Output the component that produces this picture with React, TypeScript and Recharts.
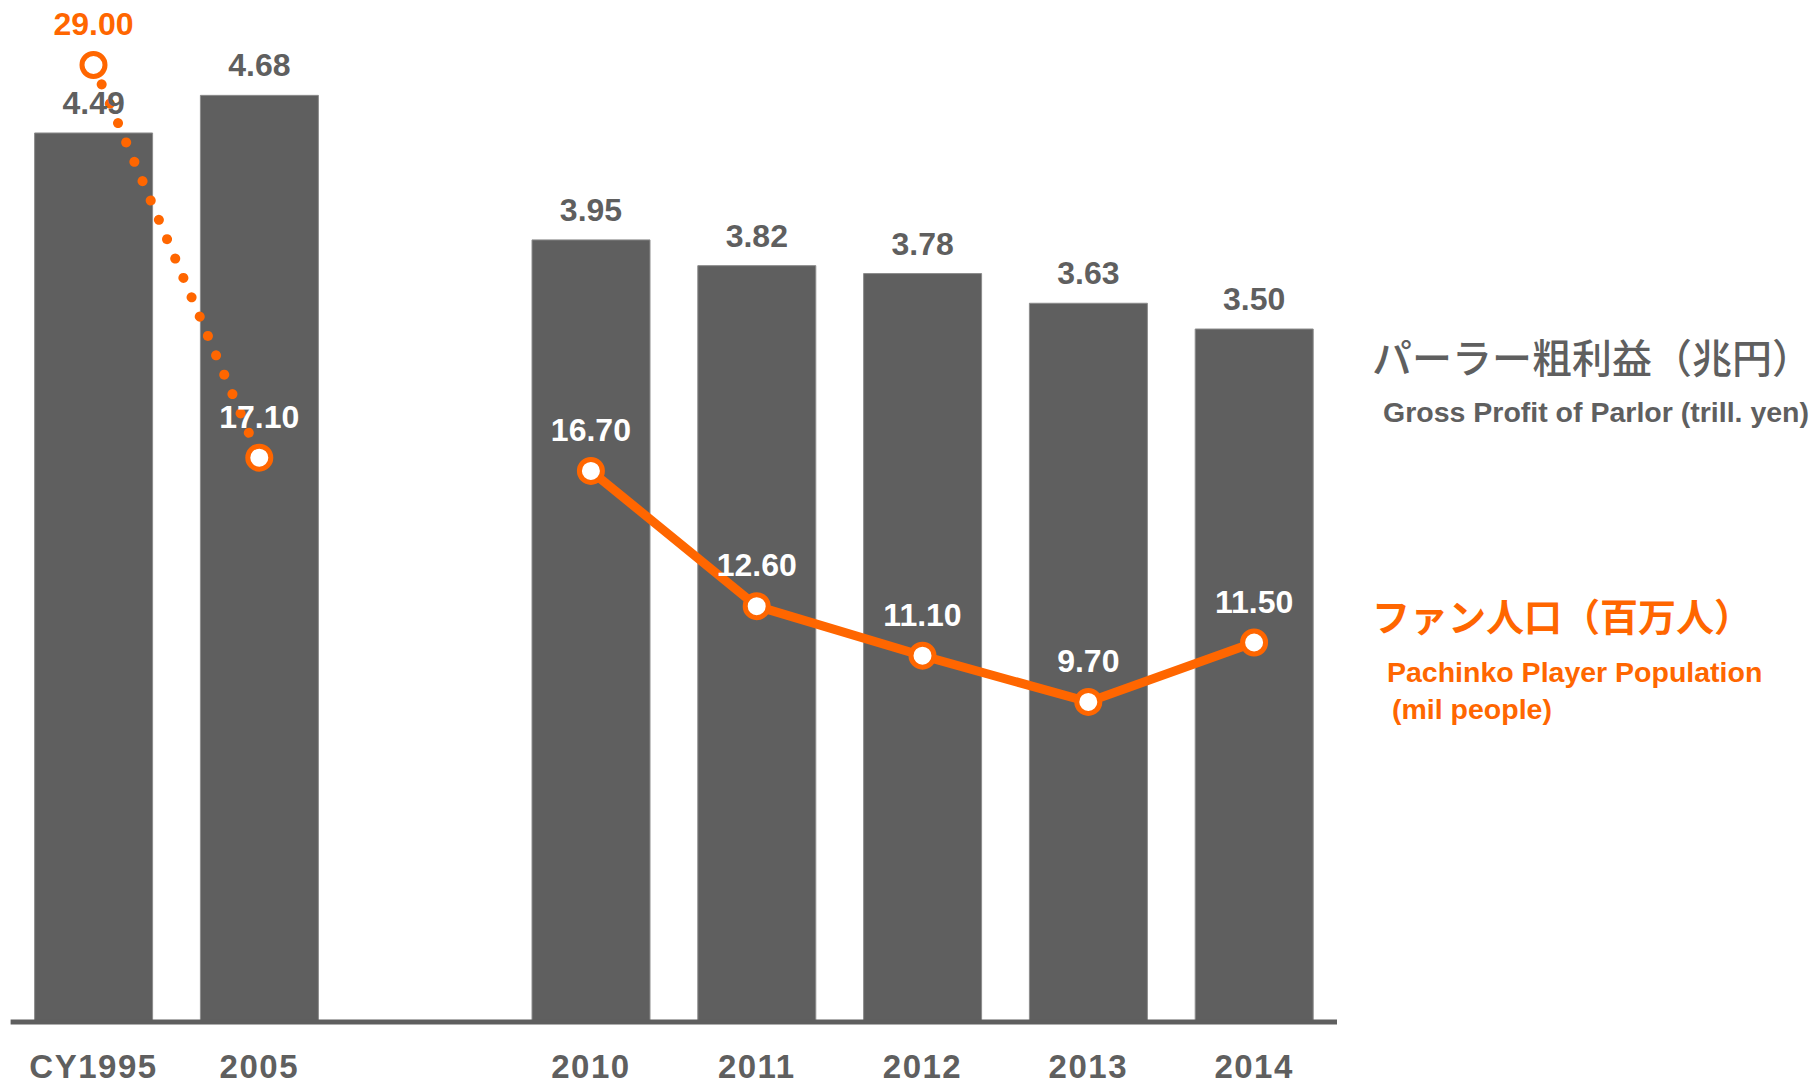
import { ComposedChart, Bar, Line, XAxis, YAxis, LabelList } from "recharts"

const years = ["CY1995", "2005", "", "2010", "2011", "2012", "2013", "2014"]
const grossProfit = [4.49, 4.68, null, 3.95, 3.82, 3.78, 3.63, 3.5]
const playersEarly = [29.0, 17.1, null, null, null, null, null, null]
const playersRecent = [null, null, null, 16.7, 12.6, 11.1, 9.7, 11.5]

const data = years.map((year, i) => ({
  year,
  profit: grossProfit[i],
  early: playersEarly[i],
  recent: playersRecent[i],
}))

const GRAY = "#5f5f5f"
const ORANGE = "#ff6600"
const NUM_FONT = "'Liberation Sans', Arial, sans-serif"
const JP_FONT = "'Noto Sans CJK JP', sans-serif"

const Marker = (props: any) => {
  const { cx, cy, value } = props
  if (value == null || cy == null) return null
  return <circle key={props.index} cx={cx} cy={cy} r={11.5} fill="#fff" stroke={ORANGE} strokeWidth={5} />
}

const barLabel = (props: any) => {
  const { x, y, width, value } = props
  if (value == null) return null
  return (
    <text x={x + width / 2} y={y - 19} textAnchor="middle" fill={GRAY} fontSize={32} fontWeight="bold" fontFamily={NUM_FONT}>
      {value.toFixed(2)}
    </text>
  )
}

const lineLabel = (props: any) => {
  const { x, y, value, index } = props
  if (value == null) return null
  return (
    <text x={x} y={y - 30} textAnchor="middle" fill={index === 0 ? ORANGE : "#fff"} fontSize={32} fontWeight="bold" fontFamily={NUM_FONT}>
      {value.toFixed(2)}
    </text>
  )
}

const YearTick = (props: any) => {
  const { x, y, payload } = props
  return (
    <text x={x} y={y + 56} textAnchor="middle" fill={GRAY} fontSize={33} fontWeight="bold" letterSpacing={1.5} fontFamily={NUM_FONT}>
      {payload.value}
    </text>
  )
}

export default function App() {
  return (
    <div style={{ position: "absolute", left: 0, top: 0, width: 1812, height: 1084, background: "#fff" }}>
      <ComposedChart width={1812} height={1084} data={data} margin={{ top: 32, right: 475, bottom: 2, left: 10.6 }}>
        <XAxis
          dataKey="year"
          height={60}
          tickLine={false}
          tickSize={0}
          tickMargin={0}
          axisLine={{ stroke: GRAY, strokeWidth: 5 }}
          tick={<YearTick />}
          interval={0}
        />
        <YAxis yAxisId="left" domain={[0, 5]} hide width={0} />
        <YAxis yAxisId="right" orientation="right" domain={[0, 30]} hide width={0} />
        <Bar yAxisId="left" dataKey="profit" fill={GRAY} stroke="#8c8c8c" strokeWidth={1} barSize={118} isAnimationActive={false}>
          <LabelList dataKey="profit" content={barLabel} />
        </Bar>
        <Line
          yAxisId="right"
          dataKey="early"
          stroke={ORANGE}
          strokeWidth={10}
          strokeDasharray="0.01 21"
          strokeLinecap="round"
          dot={<Marker />}
          activeDot={false}
          connectNulls={false}
          isAnimationActive={false}
        >
          <LabelList dataKey="early" content={lineLabel} />
        </Line>
        <Line
          yAxisId="right"
          dataKey="recent"
          stroke={ORANGE}
          strokeWidth={9}
          dot={<Marker />}
          activeDot={false}
          connectNulls={false}
          isAnimationActive={false}
        >
          <LabelList dataKey="recent" content={lineLabel} />
        </Line>
      </ComposedChart>
      <svg width={1812} height={1084} style={{ position: "absolute", left: 0, top: 0, pointerEvents: "none" }}>
        <text x={1372} y={373} fill={GRAY} fontSize={40} fontFamily={JP_FONT} fontWeight={500}>
          パーラー粗利益（兆円）
        </text>
        <text x={1383} y={422} fill={GRAY} fontSize={28.5} fontWeight="bold" fontFamily={NUM_FONT}>
          Gross Profit of Parlor (trill. yen)
        </text>
        <text x={1372} y={631} fill={ORANGE} fontSize={38} fontFamily={JP_FONT} fontWeight={700}>
          ファン人口（百万人）
        </text>
        <text x={1387} y={682} fill={ORANGE} fontSize={28.5} fontWeight="bold" fontFamily={NUM_FONT}>
          Pachinko Player Population
        </text>
        <text x={1392} y={719} fill={ORANGE} fontSize={28.5} fontWeight="bold" fontFamily={NUM_FONT}>
          (mil people)
        </text>
      </svg>
    </div>
  )
}
